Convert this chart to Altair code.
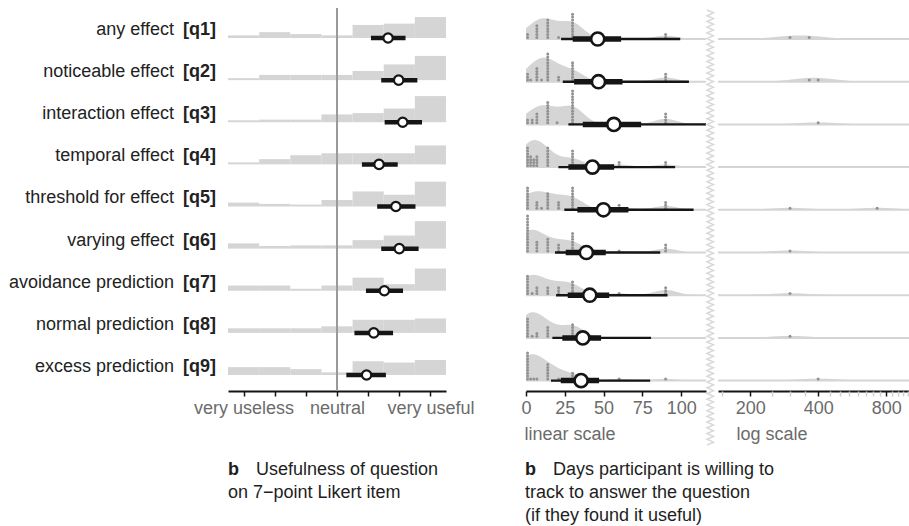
import altair as alt
import pandas as pd

FONT = "Liberation Sans"
GRAY = "#d5d5d5"
DARK = "#151515"
AXGRAY = "#6b6b6b"

# ---------------- data ----------------
questions = ["any effect", "noticeable effect", "interaction effect", "temporal effect",
             "threshold for effect", "varying effect", "avoidance prediction",
             "normal prediction", "excess prediction"]
codes = ["[q1]", "[q2]", "[q3]", "[q4]", "[q5]", "[q6]", "[q7]", "[q8]", "[q9]"]
rows = list(range(1, 10))

likert_levels = [1, 2, 3, 4, 5, 6, 7]
likert_share = [
    [4, 9, 6, 4, 20, 22, 32],
    [3, 8, 8, 8, 14, 24, 37],
    [3, 4, 4, 12, 14, 21, 40],
    [3, 8, 14, 17, 17, 17, 29],
    [6, 4, 3, 10, 23, 18, 38],
    [8, 4, 5, 5, 13, 20, 42],
    [8, 8, 3, 8, 20, 10, 34],
    [7, 7, 7, 10, 20, 20, 22],
    [12, 12, 9, 4, 21, 19, 23],
]
likert_mean = [5.64, 5.98, 6.11, 5.35, 5.89, 6.00, 5.52, 5.18, 4.95]
likert_lo = [5.09, 5.42, 5.53, 4.80, 5.29, 5.42, 4.93, 4.56, 4.30]
likert_hi = [6.20, 6.58, 6.73, 5.95, 6.52, 6.62, 6.12, 5.80, 5.57]

days_median = [46.2, 46.7, 56.6, 42.8, 49.9, 38.9, 41.1, 36.6, 35.5]
days_lo66 = [30.1, 31.0, 36.6, 27.3, 33.1, 25.6, 26.9, 23.4, 22.4]
days_hi66 = [61.3, 62.2, 74.2, 56.8, 66.0, 51.4, 53.6, 48.4, 47.1]
days_lo95 = [22.6, 23.7, 27.3, 20.9, 24.7, 18.7, 19.4, 17.0, 16.1]
days_hi95 = [99.4, 105.0, 116.0, 96.1, 108.0, 86.5, 91.2, 80.6, 80.0]

day_values = [
    [1, 7, 14, 21, 30, 90, 300, 365],
    [1, 3, 7, 10, 14, 21, 30, 90, 365, 400],
    [1, 4, 7, 14, 20, 30, 90, 400],
    [1, 3, 5, 7, 14, 30, 60, 90],
    [1, 7, 10, 14, 21, 30, 60, 90, 300, 730],
    [1, 7, 14, 21, 30, 60, 90, 300],
    [1, 4, 7, 14, 21, 30, 60, 90, 300],
    [1, 4, 7, 14, 30, 300],
    [1, 3, 5, 7, 14, 21, 30, 60, 90, 400],
]
day_counts = [
    [2, 5, 7, 1, 9, 2, 1, 1],
    [3, 1, 5, 1, 10, 2, 7, 3, 1, 1],
    [2, 2, 4, 8, 1, 12, 4, 1],
    [7, 4, 3, 4, 7, 6, 2, 2],
    [8, 3, 1, 6, 3, 8, 2, 3, 1, 1],
    [13, 4, 5, 3, 7, 1, 3, 1],
    [7, 1, 3, 3, 3, 5, 1, 3, 1],
    [7, 1, 2, 4, 5, 1],
    [10, 1, 1, 1, 6, 1, 3, 1, 1, 1],
]

lin_ticks = [0, 25, 50, 75, 100]
log_ticks = [200, 400, 800]
log_minor = [150, 250, 300, 350, 450, 500, 550, 600, 650, 700, 750, 850, 900, 950, 1000]

# ---------------- frames ----------------
hist_df = pd.DataFrame([{"row": r, "level": lv, "share": s}
                        for r, sh in zip(rows, likert_share)
                        for lv, s in zip(likert_levels, sh)])
lik_df = pd.DataFrame({"row": rows, "mean": likert_mean, "lo": likert_lo, "hi": likert_hi,
                       "name": questions, "code": codes})
days_df = pd.DataFrame({"row": rows, "median": days_median, "lo66": days_lo66, "hi66": days_hi66,
                        "lo95": days_lo95, "hi95": days_hi95})
obs = []
for r, vals, cnts in zip(rows, day_values, day_counts):
    for v, c in zip(vals, cnts):
        for k in range(c):
            obs.append({"row": r, "value": v, "k": k})
obs_df = pd.DataFrame(obs)
neutral_df = pd.DataFrame({"x": [4], "y1": [0.29], "y2": [9.38]})
band_df = pd.DataFrame({"row": rows, "a": [0] * 9, "b": [116] * 9, "la": [144] * 9, "lb": [1010] * 9})
minor_df = pd.DataFrame({"v": log_minor})
N_ZZ = 152
zz_df = pd.DataFrame({"t": list(range(N_ZZ + 1)), "side": [t % 2 for t in range(N_ZZ + 1)]})

LEFT_ROW_PX = 42.125
RIGHT_ROW_PX = 42.7
SHARE_K = 0.654 / LEFT_ROW_PX
DENS_K = 880 / RIGHT_ROW_PX
TAIL_K = 0.45 / RIGHT_ROW_PX

# ---------------- scales & axes ----------------
xl = alt.Scale(domain=[0.5, 7.5], range=[228, 446], nice=False, zero=False)
yl = alt.Scale(domain=[1, 9], range=[38, 375], nice=False, zero=False)
xlin = alt.Scale(domain=[0, 116], range=[526, 706], nice=False, zero=False)
xlog = alt.Scale(type="log", domain=[144, 1010], range=[718, 909], nice=False)
yr = alt.Scale(domain=[1, 9], range=[39, 380.6], nice=False, zero=False)

axc = dict(domainColor=DARK, domainWidth=2, tickColor=DARK, tickWidth=1.5, tickSize=5,
           labelPadding=3, labelFont=FONT, labelFontSize=18, labelColor=AXGRAY, grid=False,
           labelOverlap=False, labelBound=False, labelFlush=False, orient="bottom")
lik_axis = alt.Axis(values=likert_levels, title=None,
                    labelExpr="datum.value == 1 ? 'very useless' : datum.value == 4 ? 'neutral' : datum.value == 7 ? 'very useful' : ''",
                    **axc)
tc = dict(titleFont=FONT, titleFontSize=18, titleFontWeight="normal", titleColor=AXGRAY,
          titleY=48, titleAlign="left", titleBaseline="alphabetic")
lin_axis = alt.Axis(values=lin_ticks, title="linear scale", titleX=524, **tc, **axc)
log_axis = alt.Axis(values=log_ticks, title="log scale", titleX=736, format="d", **tc, **axc)
minor_axis = alt.Axis(values=log_minor, labels=False, domain=False, tickColor="#d0d0d0", tickWidth=1.5,
                      tickSize=5, title=None, grid=False, orient="bottom")

# ---------------- left panel ----------------
hist = alt.Chart(hist_df).transform_calculate(
    x0="datum.level - 0.5", x1="datum.level + 0.5",
    top=f"datum.row - datum.share * {SHARE_K}"
).mark_rect(color=GRAY).encode(
    x=alt.X("x0:Q", scale=xl, axis=lik_axis), x2="x1:Q",
    y=alt.Y("row:Q", scale=yl, axis=None), y2="top:Q")

neutral = alt.Chart(neutral_df).mark_rule(color="#9a9a9a", strokeWidth=2).encode(
    x=alt.X("x:Q", scale=xl, axis=lik_axis),
    y=alt.Y("y1:Q", scale=yl, axis=None), y2="y2:Q")

lik_int = alt.Chart(lik_df).mark_rule(color=DARK, strokeWidth=4.5).encode(
    x=alt.X("lo:Q", scale=xl, axis=lik_axis), x2="hi:Q",
    y=alt.Y("row:Q", scale=yl, axis=None))
lik_pt = alt.Chart(lik_df).mark_point(shape="circle", filled=True, fill="white", stroke=DARK,
                                      strokeWidth=2.2, size=88, opacity=1).encode(
    x=alt.X("mean:Q", scale=xl, axis=lik_axis),
    y=alt.Y("row:Q", scale=yl, axis=None))

name_txt = alt.Chart(lik_df).transform_calculate(ly="datum.row - 0.19").mark_text(
    align="right", baseline="middle", font=FONT, fontSize=18, color="#222222").encode(
    x=alt.value(174), y=alt.Y("ly:Q", scale=yl, axis=None), text="name:N")
code_txt = alt.Chart(lik_df).transform_calculate(ly="datum.row - 0.19").mark_text(
    align="left", baseline="middle", font=FONT, fontSize=18, fontWeight="bold", color="#222222").encode(
    x=alt.value(183), y=alt.Y("ly:Q", scale=yl, axis=None), text="code:N")

left = alt.layer(hist, neutral, lik_int, lik_pt, name_txt, code_txt)

# ---------------- right panel (linear) ----------------
dens = alt.Chart(obs_df).transform_density(
    "value", groupby=["row"], bandwidth=7.5, extent=[0, 116], steps=240, as_=["value", "density"]
).transform_calculate(top=f"datum.row - datum.density * {DENS_K}").mark_area(color=GRAY).encode(
    x=alt.X("value:Q", scale=xlin, axis=lin_axis),
    y=alt.Y("row:Q", scale=yr, axis=None), y2="top:Q", detail="row:N")

band_lin = alt.Chart(band_df).mark_rule(color=GRAY, strokeWidth=2).encode(
    x=alt.X("a:Q", scale=xlin, axis=lin_axis), x2="b:Q",
    y=alt.Y("row:Q", scale=yr, axis=None))

dots_lin = alt.Chart(obs_df).transform_filter("datum.value <= 116").transform_calculate(
    dy=f"datum.row - (1.6 + datum.k * 2.9) / {RIGHT_ROW_PX}"
).mark_circle(color="#929292", size=9, opacity=1).encode(
    x=alt.X("value:Q", scale=xlin, axis=lin_axis),
    y=alt.Y("dy:Q", scale=yr, axis=None))

thin = alt.Chart(days_df).mark_rule(color=DARK, strokeWidth=2.4).encode(
    x=alt.X("lo95:Q", scale=xlin, axis=lin_axis), x2="hi95:Q",
    y=alt.Y("row:Q", scale=yr, axis=None))
thick = alt.Chart(days_df).mark_rule(color=DARK, strokeWidth=5.5).encode(
    x=alt.X("lo66:Q", scale=xlin, axis=lin_axis), x2="hi66:Q",
    y=alt.Y("row:Q", scale=yr, axis=None))
med_pt = alt.Chart(days_df).mark_point(shape="circle", filled=True, fill="white", stroke=DARK,
                                       strokeWidth=2.6, size=172, opacity=1).encode(
    x=alt.X("median:Q", scale=xlin, axis=lin_axis),
    y=alt.Y("row:Q", scale=yr, axis=None))

linear = alt.layer(dens, band_lin, dots_lin, thin, thick, med_pt)

# ---------------- right panel (log) ----------------
tail = alt.Chart(obs_df).transform_filter("datum.value > 116").transform_calculate(
    lv="log(datum.value) / LN10"
).transform_density(
    "lv", groupby=["row"], bandwidth=0.09, extent=[2.1584, 3.0043], steps=150, counts=True,
    as_=["lv", "density"]
).transform_calculate(
    xv="pow(10, datum.lv)", top=f"datum.row - datum.density * {TAIL_K}"
).mark_area(color=GRAY).encode(
    x=alt.X("xv:Q", scale=xlog, axis=log_axis),
    y=alt.Y("row:Q", scale=yr, axis=None), y2="top:Q", detail="row:N")

band_log = alt.Chart(band_df).mark_rule(color=GRAY, strokeWidth=2).encode(
    x=alt.X("la:Q", scale=xlog, axis=log_axis), x2="lb:Q",
    y=alt.Y("row:Q", scale=yr, axis=None))

dots_log = alt.Chart(obs_df).transform_filter("datum.value > 116").transform_calculate(
    dy=f"datum.row - (1.6 + datum.k * 2.9) / {RIGHT_ROW_PX}"
).mark_circle(color="#929292", size=9, opacity=1).encode(
    x=alt.X("value:Q", scale=xlog, axis=log_axis),
    y=alt.Y("dy:Q", scale=yr, axis=None))

logp = alt.layer(tail, band_log, dots_log)

minor = alt.Chart(minor_df).mark_point(opacity=0).encode(
    x=alt.X("v:Q", scale=alt.Scale(type="log", domain=[144, 1010], range=[718, 909], nice=False),
            axis=minor_axis))

zig = alt.Chart(zz_df).mark_line(color="#d9d9d9", strokeWidth=1.5).encode(
    x=alt.X("side:Q", scale=alt.Scale(domain=[0, 1], range=[707, 713.5], nice=False, zero=False), axis=None),
    y=alt.Y("t:Q", scale=alt.Scale(domain=[0, N_ZZ], range=[10, 445], nice=False, zero=False), axis=None),
    order="t:Q")

# ---------------- captions ----------------
cap_df = pd.DataFrame({"d": [0]})
def cap(text, x, y, bold=False):
    return alt.Chart(cap_df).mark_text(
        text=text, align="left", baseline="alphabetic", font=FONT, fontSize=18,
        fontWeight="bold" if bold else "normal", color="#1e1e1e"
    ).encode(x=alt.value(x), y=alt.value(y))

captions = alt.layer(
    cap("b", 228, 475, True), cap("Usefulness of question", 256, 475),
    cap("on 7\u2212point Likert item", 228, 498),
    cap("b", 525, 475, True), cap("Days participant is willing to", 553, 475),
    cap("track to answer the question", 525, 498),
    cap("(if they found it useful)", 525, 521),
)

chart = alt.layer(left, linear, logp, minor, zig, captions).resolve_scale(
    x="independent", y="independent"
).properties(
    width=909, height=391,
    padding={"left": 0, "top": 0, "right": 0, "bottom": 135},
    autosize=alt.AutoSizeParams(type="none"),
).configure_view(stroke=None)

chart.save("out.html", embed_options={"renderer": "svg", "actions": False})
